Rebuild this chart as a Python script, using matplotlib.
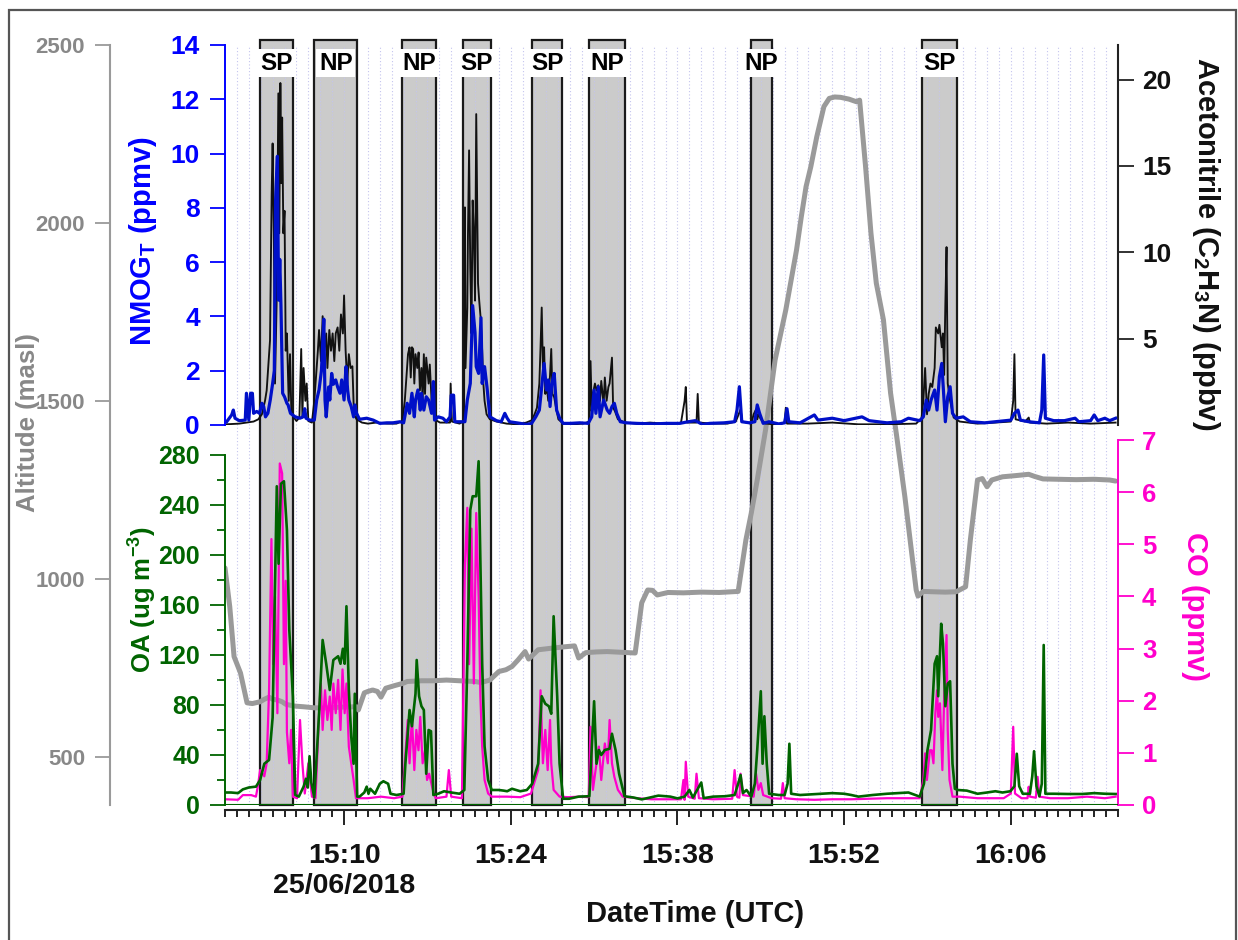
import matplotlib
matplotlib.use("Agg")
import matplotlib.pyplot as plt
from matplotlib.patches import Rectangle
from matplotlib.ticker import FixedLocator, MultipleLocator

plt.rcParams['font.family'] = ['Liberation Sans', 'DejaVu Sans']
plt.rcParams['font.weight'] = 'bold'
plt.rcParams['mathtext.fontset'] = 'custom'
plt.rcParams['mathtext.rm'] = 'Liberation Sans:bold'
plt.rcParams['mathtext.it'] = 'Liberation Sans:bold'
plt.rcParams['mathtext.bf'] = 'Liberation Sans:bold'
plt.rcParams['mathtext.sf'] = 'Liberation Sans:bold'

# ---------------- data (time in minutes after 15:00 UTC, 25/06/2018) ----------------
PLUME_START = [2.95, 7.5, 14.86, 20.0, 25.8, 30.6, 44.15, 58.5]
PLUME_END = [5.7, 11.1, 17.7, 22.3, 28.3, 33.6, 45.9, 61.5]
PLUME_LABEL = ['SP', 'NP', 'NP', 'SP', 'SP', 'NP', 'NP', 'SP']

XTICK_POS = [10, 24, 38, 52, 66]
XTICK_LABELS = ['15:10\n25/06/2018', '15:24', '15:38', '15:52', '16:06']

ALT_PTS = [(0, 1031), (0.4, 922), (0.76, 782), (1.3, 736), (1.85, 652), (2.3, 650), (2.95, 655),
           (3.3, 662), (3.7, 668), (4.0, 662), (4.4, 660), (4.8, 655), (5.1, 648), (5.8, 643),
           (6.6, 641), (7.5, 638), (8.8, 638), (9.8, 640), (11.0, 641), (11.2, 632), (11.7, 680),
           (12.0, 684), (12.4, 688), (12.8, 684), (13.1, 668), (13.5, 693), (14.2, 700), (14.96, 707),
           (15.3, 712), (16.5, 714), (17.5, 714), (18.6, 716), (19.7, 714), (21.0, 712), (21.5, 709),
           (22.25, 716), (23.0, 740), (23.6, 745), (24.1, 754), (24.6, 772), (25.2, 796), (25.5, 775),
           (26.3, 801), (27.3, 805), (28.4, 809), (29.35, 812), (29.7, 778), (30.3, 793), (31.2, 795),
           (32.1, 796), (33.3, 794), (34.45, 792), (35.0, 933), (35.5, 969), (35.9, 968), (36.3, 955),
           (37.2, 962), (38.5, 961), (40.0, 963), (41.5, 962), (43.1, 965), (43.75, 1110), (44.2, 1185),
           (44.7, 1278), (45.4, 1419), (46.2, 1615), (47.1, 1756), (48.0, 1924), (48.4, 2017),
           (48.8, 2102), (49.2, 2158), (49.7, 2242), (50.3, 2327), (50.75, 2350), (51.2, 2354),
           (51.7, 2353), (52.4, 2348), (53.0, 2341), (53.3, 2345), (53.8, 2158), (54.25, 1972),
           (54.7, 1831), (55.3, 1728), (55.9, 1522), (56.4, 1404), (57.1, 1231), (58.05, 969),
           (58.2, 952), (58.65, 965), (59.5, 964), (60.5, 963), (61.4, 964), (62.2, 978), (62.6, 1110),
           (63.2, 1278), (63.6, 1282), (64.0, 1259), (64.4, 1278), (65.3, 1287), (66.3, 1290),
           (67.5, 1294), (68.0, 1288), (68.7, 1281), (70.0, 1280), (71.5, 1279), (73.0, 1280),
           (74.3, 1278), (74.8, 1275)]

OA_PTS = [(0, 10), (0.5, 10), (1.1, 9.5), (1.5, 12.5), (2.0, 14), (2.6, 14.7), (2.95, 20), (3.3, 33),
          (3.7, 36), (4.0, 70), (4.35, 255), (4.5, 193), (4.7, 257), (4.95, 259), (5.2, 220), (5.4, 140),
          (5.7, 87), (5.9, 8), (6.2, 6.7), (6.6, 14.7), (6.8, 21), (6.95, 14), (7.1, 39), (7.25, 18),
          (7.5, 6), (7.9, 73), (8.2, 132), (8.5, 113), (8.8, 92), (9.1, 116), (9.5, 119), (9.7, 113),
          (9.9, 125), (10.05, 113), (10.2, 159), (10.4, 92), (10.6, 55), (10.8, 33), (10.9, 89),
          (11.1, 6.7), (11.3, 6.7), (11.7, 10), (11.9, 14.7), (12.05, 9), (12.2, 13), (12.6, 9),
          (13.0, 17), (13.3, 19), (13.7, 17), (13.9, 9), (14.4, 8), (15.0, 9), (15.15, 33), (15.5, 76),
          (15.7, 63), (16.0, 89), (16.1, 116), (16.3, 87), (16.5, 79), (16.7, 76), (16.9, 25),
          (17.1, 60), (17.3, 59), (17.5, 8), (17.9, 9), (18.4, 11), (19.0, 10), (19.7, 9), (20.1, 12),
          (20.35, 113), (20.6, 236), (20.8, 247), (21.1, 247), (21.3, 275), (21.4, 220), (21.6, 113),
          (21.8, 47), (22.1, 20), (22.4, 12), (23.0, 12), (23.4, 11.5), (23.7, 11), (24.1, 13),
          (24.8, 11), (25.35, 12), (25.8, 17), (26.3, 33), (26.6, 87), (26.9, 81), (27.2, 79),
          (27.4, 73), (27.6, 151), (27.9, 87), (28.1, 33), (28.4, 5), (28.9, 5), (29.7, 6.7),
          (30.6, 7), (31.0, 83), (31.2, 33), (31.4, 44), (31.6, 40), (31.9, 44), (32.3, 45), (32.5, 57),
          (32.8, 44), (33.1, 25), (33.55, 7), (34.3, 6), (35.0, 4.5), (35.7, 6), (36.4, 7.5),
          (37.4, 6.7), (38.0, 5.3), (38.6, 6.7), (39.0, 12), (39.3, 6), (40.0, 18), (40.2, 5.5),
          (41.0, 6.7), (42.0, 7), (42.8, 8), (43.1, 17), (43.3, 24), (43.5, 9.5), (43.8, 12),
          (44.2, 6.7), (44.5, 17), (44.7, 44), (45.0, 91), (45.15, 33), (45.3, 71), (45.5, 33),
          (45.7, 9), (46.5, 8), (47.0, 8), (47.25, 17), (47.4, 49), (47.55, 9), (48.3, 8), (49.2, 8.5),
          (50.1, 9), (51.0, 9.5), (52.0, 9), (52.6, 8), (53.2, 6.7), (54.4, 8), (55.6, 9), (56.5, 9.5),
          (57.4, 10), (58.35, 6.7), (58.7, 17), (59.0, 44), (59.3, 60), (59.6, 113), (59.8, 119),
          (59.9, 87), (60.15, 145), (60.3, 129), (60.5, 79), (60.7, 97), (60.9, 99), (61.1, 33),
          (61.3, 13), (61.55, 12), (62.3, 11.5), (63.2, 9), (64.0, 10), (64.7, 11), (65.3, 10),
          (65.96, 11), (66.3, 15), (66.5, 41), (66.7, 15), (67.0, 9), (67.6, 9), (67.8, 23),
          (67.95, 43), (68.15, 15), (68.4, 7), (68.6, 17), (68.76, 128), (68.9, 9), (69.6, 9),
          (70.8, 8.8), (72.0, 8.8), (73.0, 9.5), (73.9, 9), (74.8, 8.8)]

CO_PTS = [(0, 0.11), (1.1, 0.10), (1.5, 0.19), (2.2, 0.19), (2.6, 0.16), (2.8, 0.42), (2.95, 0.67),
          (3.3, 0.55), (3.5, 0.8), (3.7, 2.2), (3.9, 5.1), (4.05, 2.7), (4.2, 4.0), (4.4, 1.76),
          (4.6, 6.55), (4.8, 6.36), (4.95, 2.7), (5.1, 4.3), (5.2, 1.4), (5.4, 0.8), (5.55, 1.44),
          (5.7, 0.16), (6.05, 0.13), (6.3, 1.63), (6.5, 0.8), (6.7, 0.22), (7.0, 0.8), (7.3, 0.16),
          (7.6, 0.13), (7.9, 1.76), (8.05, 2.33), (8.2, 1.44), (8.4, 2.2), (8.6, 1.63), (8.8, 2.08),
          (8.96, 1.44), (9.1, 2.33), (9.3, 1.76), (9.5, 2.4), (9.7, 1.44), (9.87, 2.6), (10.05, 1.76),
          (10.2, 2.33), (10.4, 1.12), (10.6, 0.8), (10.8, 0.48), (11.0, 0.13), (12.0, 0.13),
          (13.1, 0.16), (14.2, 0.13), (14.9, 0.16), (15.15, 0.99), (15.35, 1.63), (15.5, 0.8),
          (15.7, 1.69), (15.9, 0.67), (16.07, 1.44), (16.25, 1.05), (16.4, 1.69), (16.6, 0.8),
          (16.8, 1.05), (16.97, 0.48), (17.15, 0.6), (17.45, 0.29), (17.7, 0.13), (18.6, 0.16),
          (18.8, 0.67), (19.0, 0.16), (19.9, 0.13), (20.15, 4.6), (20.35, 5.7), (20.5, 2.7),
          (20.7, 5.3), (20.9, 2.33), (21.1, 5.6), (21.3, 4.0), (21.45, 2.08), (21.6, 1.12),
          (21.8, 0.48), (22.1, 0.22), (22.4, 0.16), (23.7, 0.16), (24.8, 0.15), (25.7, 0.22),
          (26.3, 0.67), (26.5, 2.2), (26.7, 0.8), (26.9, 1.44), (27.1, 0.67), (27.3, 1.63), (27.4, 0.8),
          (27.6, 0.29), (28.1, 0.16), (28.8, 0.15), (29.8, 0.16), (30.55, 0.15), (30.7, 1.5),
          (30.9, 0.29), (31.2, 0.8), (31.4, 1.12), (31.6, 0.48), (31.9, 1.18), (32.15, 0.8),
          (32.3, 1.63), (32.5, 0.8), (32.7, 0.54), (33.0, 0.29), (33.4, 0.16), (34.6, 0.13),
          (35.8, 0.11), (37.2, 0.11), (38.3, 0.11), (38.5, 0.48), (38.6, 0.1), (38.7, 0.83),
          (38.9, 0.16), (39.45, 0.12), (39.6, 0.6), (39.8, 0.13), (41.0, 0.11), (42.6, 0.12),
          (42.8, 0.67), (43.0, 0.16), (43.2, 0.14), (43.3, 0.6), (43.5, 0.19), (44.4, 0.16),
          (44.6, 0.6), (44.8, 0.29), (45.0, 0.42), (45.2, 0.19), (45.9, 0.13), (46.7, 0.12),
          (46.85, 0.42), (47.0, 0.13), (48.0, 0.11), (49.5, 0.1), (51.0, 0.11), (52.6, 0.11),
          (54.0, 0.12), (55.6, 0.13), (57.0, 0.13), (58.35, 0.13), (58.65, 0.48), (58.8, 0.99),
          (58.95, 0.48), (59.2, 1.05), (59.35, 1.05), (59.5, 0.8), (59.66, 1.76), (59.8, 2.2),
          (59.9, 1.69), (60.05, 1.95), (60.25, 0.67), (60.4, 2.08), (60.6, 3.26), (60.7, 1.44),
          (60.85, 0.48), (61.1, 0.16), (61.7, 0.16), (63.2, 0.13), (65.4, 0.13), (66.0, 0.22),
          (66.2, 1.5), (66.35, 0.22), (66.9, 0.13), (67.4, 0.13), (67.5, 0.35), (67.6, 0.16),
          (68.1, 0.14), (68.25, 0.54), (68.4, 0.16), (69.3, 0.13), (70.8, 0.13), (72.4, 0.16),
          (73.9, 0.13), (74.8, 0.16)]

NMOG_PTS = [(0.14, 0.12), (0.56, 0.37), (0.7, 0.55), (0.84, 0.25), (1.2, 0.16), (1.7, 0.18), (1.8, 1.17),
            (2.0, 0.18), (2.15, 1.17), (2.3, 1.17), (2.4, 0.43), (2.66, 0.5), (2.9, 0.43), (3.1, 0.8),
            (3.25, 0.68), (3.4, 0.3), (3.6, 0.43), (3.8, 0.92), (4.0, 1.53), (4.14, 2.0), (4.25, 8.3),
            (4.4, 9.9), (4.5, 4.6), (4.6, 6.1), (4.7, 4.4), (4.84, 1.17), (5.0, 1.04), (5.2, 0.8),
            (5.3, 0.74), (5.5, 0.43), (5.9, 0.3), (6.3, 0.25), (6.55, 0.3), (6.7, 0.6), (6.8, 0.25),
            (7.1, 0.18), (7.5, 0.18), (7.7, 0.92), (7.9, 1.3), (8.1, 2.0), (8.3, 3.9), (8.4, 0.92),
            (8.5, 0.3), (8.7, 1.4), (8.8, 0.92), (8.96, 1.9), (9.1, 1.5), (9.3, 1.66), (9.46, 1.4),
            (9.66, 1.17), (9.8, 1.66), (10.0, 0.92), (10.16, 2.15), (10.3, 1.29), (10.4, 0.92),
            (10.6, 0.68), (10.8, 0.3), (10.9, 0.74), (11.05, 0.43), (11.3, 0.21), (11.9, 0.25),
            (12.45, 0.18), (13.0, 0.06), (13.6, 0.08), (14.1, 0.08), (14.7, 0.12), (15.0, 0.08),
            (15.1, 0.3), (15.3, 0.8), (15.5, 0.43), (15.7, 1.17), (15.9, 0.3), (16.0, 0.92), (16.2, 1.29),
            (16.4, 0.55), (16.5, 1.17), (16.7, 0.55), (16.9, 1.04), (17.1, 0.92), (17.35, 0.43),
            (17.5, 1.6), (17.6, 0.18), (17.9, 0.3), (18.3, 0.25), (18.6, 0.12), (18.9, 0.3), (19.0, 1.1),
            (19.2, 1.1), (19.3, 0.12), (19.7, 0.12), (20.15, 0.12), (20.35, 0.92), (20.6, 1.53),
            (20.8, 4.4), (21.0, 3.4), (21.1, 2.15), (21.3, 1.9), (21.5, 3.95), (21.6, 1.53), (21.8, 2.15),
            (22.0, 1.41), (22.25, 0.3), (22.8, 0.16), (23.2, 0.12), (23.5, 0.43), (23.7, 0.25),
            (23.9, 0.12), (24.8, 0.06), (25.3, 0.02), (25.75, 0.06), (26.1, 0.3), (26.4, 0.55),
            (26.6, 1.41), (26.8, 2.27), (27.0, 1.29), (27.15, 1.66), (27.3, 0.68), (27.45, 1.53),
            (27.65, 1.9), (27.85, 0.55), (28.1, 0.25), (28.4, 0.06), (29.0, 0.06), (29.8, 0.08),
            (30.5, 0.06), (30.8, 0.3), (31.0, 1.29), (31.15, 0.43), (31.35, 1.41), (31.5, 0.3),
            (31.8, 0.92), (32.1, 0.55), (32.3, 0.43), (32.5, 0.68), (32.7, 0.8), (32.9, 0.43),
            (33.2, 0.12), (33.7, 0.08), (34.6, 0.06), (36.0, 0.04), (37.1, 0.06), (38.2, 0.06),
            (38.9, 0.12), (39.5, 0.16), (40.1, 0.02), (40.7, 0.06), (41.9, 0.08), (42.8, 0.12),
            (43.0, 0.55), (43.2, 1.41), (43.4, 0.12), (44.05, 0.08), (44.5, 0.12), (44.7, 0.74),
            (44.9, 0.43), (45.2, 0.06), (45.7, 0.12), (46.5, 0.04), (47.0, 0.08), (47.2, 0.6),
            (47.35, 0.12), (48.3, 0.08), (49.5, 0.37), (49.8, 0.18), (51.0, 0.25), (52.0, 0.16),
            (53.5, 0.3), (54.1, 0.16), (55.6, 0.08), (56.8, 0.12), (57.4, 0.25), (58.35, 0.16),
            (58.65, 0.3), (58.9, 0.92), (59.1, 0.55), (59.3, 0.92), (59.6, 1.29), (59.8, 0.55),
            (60.0, 1.78), (60.2, 2.27), (60.35, 1.17), (60.5, 0.12), (60.7, 1.04), (60.9, 1.41),
            (61.1, 0.43), (61.4, 0.25), (62.0, 0.3), (62.6, 0.12), (63.8, 0.08), (64.7, 0.12),
            (66.0, 0.18), (66.3, 0.43), (66.6, 0.55), (66.8, 0.18), (67.5, 0.12), (68.4, 0.08),
            (68.6, 0.55), (68.76, 2.58), (68.9, 0.25), (69.6, 0.16), (70.5, 0.16), (71.4, 0.25),
            (71.7, 0.12), (72.7, 0.16), (73.0, 0.37), (73.3, 0.16), (73.9, 0.25), (74.3, 0.16),
            (74.8, 0.25)]

ACN_PTS = [(0.1, 0.04), (1.2, 0.08), (2.4, 0.2), (2.8, 0.33), (3.1, 0.62), (3.36, 1.4), (3.5, 2.0),
           (3.64, 3.5), (3.78, 4.9), (3.92, 13.4), (4.0, 16.3), (4.1, 11.1), (4.2, 2.4), (4.34, 7.2),
           (4.48, 19.2), (4.56, 11.1), (4.65, 19.8), (4.73, 14.0), (4.8, 17.8), (4.9, 11.1), (5.0, 12.4),
           (5.1, 4.3), (5.2, 5.3), (5.35, 1.4), (5.46, 4.1), (5.57, 0.8), (5.7, 0.52), (6.0, 0.23),
           (6.25, 0.43), (6.4, 4.4), (6.5, 0.43), (6.6, 3.3), (6.75, 1.4), (6.86, 2.4), (7.0, 0.23),
           (7.3, 0.14), (7.5, 1.4), (7.64, 2.75), (7.8, 4.3), (7.9, 5.5), (8.06, 3.7), (8.2, 6.3),
           (8.34, 4.3), (8.5, 5.3), (8.6, 3.3), (8.76, 5.5), (8.9, 4.3), (9.04, 5.3), (9.18, 3.7),
           (9.3, 5.3), (9.46, 5.65), (9.6, 4.3), (9.74, 6.4), (9.9, 5.3), (10.0, 7.5), (10.13, 4.3),
           (10.27, 2.4), (10.4, 4.1), (10.55, 3.3), (10.7, 3.4), (10.83, 0.62), (11.05, 0.33),
           (11.5, 0.14), (12.0, 0.08), (12.7, 0.14), (13.6, 0.08), (14.4, 0.08), (14.9, 0.23),
           (15.1, 1.4), (15.25, 2.9), (15.37, 4.1), (15.5, 4.5), (15.6, 2.75), (15.7, 4.5), (15.8, 4.4),
           (15.9, 2.4), (16.0, 4.1), (16.15, 3.3), (16.26, 4.2), (16.37, 2.0), (16.5, 3.3), (16.6, 1.4),
           (16.7, 4.1), (16.8, 1.8), (16.9, 3.9), (17.1, 2.4), (17.2, 3.5), (17.35, 1.4), (17.5, 0.8),
           (17.6, 0.33), (18.05, 0.14), (18.9, 0.14), (18.95, 2.4), (19.06, 0.2), (19.7, 0.08),
           (20.07, 0.23), (20.15, 12.6), (20.2, 3.3), (20.35, 6.8), (20.4, 10.7), (20.5, 15.9),
           (20.6, 9.1), (20.7, 5.3), (20.8, 13.0), (20.9, 11.1), (21.0, 7.2), (21.1, 18.0),
           (21.25, 8.2), (21.35, 7.2), (21.47, 6.2), (21.6, 4.3), (21.7, 2.4), (21.8, 1.4),
           (21.97, 0.62), (22.25, 0.33), (22.8, 0.2), (23.65, 0.08), (24.5, 0.04), (25.3, 0.14),
           (25.75, 0.27), (26.0, 0.62), (26.2, 1.0), (26.4, 2.4), (26.5, 4.5), (26.6, 6.8), (26.7, 3.3),
           (26.8, 4.5), (26.9, 1.8), (27.0, 2.4), (27.15, 1.4), (27.3, 2.9), (27.4, 4.4), (27.5, 1.8),
           (27.65, 1.6), (27.8, 1.0), (28.0, 0.33), (28.4, 0.08), (29.25, 0.04), (30.1, 0.08),
           (30.6, 0.2), (30.7, 3.7), (30.8, 0.8), (30.9, 1.8), (31.07, 2.4), (31.2, 2.0), (31.35, 2.3),
           (31.5, 1.4), (31.6, 2.55), (31.8, 1.2), (31.9, 2.75), (32.05, 1.4), (32.2, 2.2), (32.3, 2.4),
           (32.5, 3.9), (32.6, 1.0), (32.75, 0.8), (33.0, 0.33), (33.6, 0.14), (34.6, 0.08),
           (35.7, 0.14), (36.8, 0.08), (37.4, 0.04), (38.3, 0.14), (38.6, 1.4), (38.7, 2.2),
           (38.8, 0.14), (39.6, 0.14), (39.7, 1.8), (39.8, 0.14), (41.0, 0.08), (42.2, 0.08),
           (42.9, 0.2), (43.3, 0.9), (43.45, 0.2), (44.2, 0.08), (44.4, 0.62), (44.6, 0.9), (44.7, 0.33),
           (44.8, 0.62), (45.0, 0.33), (45.4, 0.08), (46.5, 0.02), (47.0, 0.14), (47.1, 1.0),
           (47.2, 0.08), (48.9, 0.08), (51.0, 0.14), (53.2, 0.04), (55.6, 0.04), (58.05, 0.08),
           (58.5, 0.4), (58.65, 1.4), (58.8, 3.3), (58.96, 0.62), (59.1, 1.8), (59.25, 2.4), (59.4, 2.2),
           (59.6, 3.3), (59.7, 5.65), (59.9, 5.3), (60.0, 5.8), (60.2, 4.5), (60.3, 5.3), (60.4, 2.9),
           (60.5, 7.0), (60.6, 10.3), (60.7, 2.4), (60.9, 1.4), (61.2, 0.43), (61.7, 0.2), (63.2, 0.08),
           (64.7, 0.14), (66.0, 0.2), (66.2, 1.4), (66.3, 4.1), (66.4, 0.33), (67.2, 0.2), (67.5, 0.43),
           (67.6, 0.14), (69.0, 0.08), (70.8, 0.14), (72.7, 0.08), (74.8, 0.14)]

# ---------------- styling ----------------
W, H = 1238, 940
X0, X1 = 225, 1118          # plot left/right in pixels
XMIN, XMAX = 0, 75
C_BLUE_TXT = '#0000FF'
C_BLUE = '#0010C8'
C_BLACK = '#111111'
C_GREEN = '#006400'
C_MAG = '#FF00CC'
C_ALT = '#9a9a9a'
C_ALT_TXT = '#888888'
PT = 0.72  # points per pixel at dpi 100


def rect(top_px, bottom_px):
    return [X0 / W, 1 - bottom_px / H, (X1 - X0) / W, (bottom_px - top_px) / H]


def split(pts):
    return [p[0] for p in pts], [p[1] for p in pts]


fig = plt.figure(figsize=(W / 100, H / 100), dpi=100)
fig.patch.set_facecolor('white')

# frame
fig.add_artist(Rectangle((9 / W, -0.02), (1236 - 9) / W, 1 - 10 / H + 0.02,
                         transform=fig.transFigure, fill=False, ec='#555555', lw=1.6))

# background axes: plume boxes and vertical dotted grid
bg = fig.add_axes(rect(40, 805))
bg.set_zorder(0)
bg.set_xlim(XMIN, XMAX)
bg.set_ylim(0, 1)
bg.axis('off')
for s, e in zip(PLUME_START, PLUME_END):
    bg.add_patch(Rectangle((s, 0), e - s, 1, fc='#cbcbcb', ec='none', zorder=1))
grid_top = (805 - 45) / (805 - 40)
for m in range(1, 75):
    bg.axvline(m, ymin=0, ymax=grid_top, color='#c4c4ee', ls=(0, (1, 2)), lw=0.8, zorder=2)
for s, e in zip(PLUME_START, PLUME_END):
    bg.add_patch(Rectangle((s, 0), e - s, 1, fill=False, ec='#1a1a1a', lw=1.6, zorder=3,
                           clip_on=False))

# altitude axes (spans both panels)
alt = fig.add_axes(rect(45, 805))
alt.set_zorder(1)
alt.patch.set_visible(False)
alt.set_xlim(XMIN, XMAX)
alt.set_ylim(365, 2500)
at, av = split(ALT_PTS)
alt.plot(at, av, color=C_ALT, lw=3.6, solid_joinstyle='round', solid_capstyle='round')
for sp in ['top', 'right', 'bottom']:
    alt.spines[sp].set_visible(False)
alt.spines['left'].set_position(('outward', 115 * PT))
alt.spines['left'].set_color(C_ALT)
alt.spines['left'].set_linewidth(1.5)
alt.set_yticks([500, 1000, 1500, 2000, 2500])
alt.tick_params(axis='y', direction='out', length=15 * PT, width=1.3, color=C_ALT,
                labelcolor=C_ALT_TXT, labelsize=16, pad=10 * PT)
alt.tick_params(axis='x', bottom=False, labelbottom=False)
fig.text(28 / W, 1 - 423 / H, 'Altitude (masl)', rotation=90, color=C_ALT_TXT,
         fontsize=18.5, fontweight='bold', ha='center', va='center')

# top panel: NMOG (left) and acetonitrile (right)
top = fig.add_axes(rect(45, 425))
top.set_zorder(4)
top.patch.set_visible(False)
top.set_xlim(XMIN, XMAX)
top.set_ylim(0, 14)
nt, nv = split(NMOG_PTS)
top.plot(nt, nv, color=C_BLUE, lw=2.3)
for sp in ['top', 'right', 'bottom']:
    top.spines[sp].set_visible(False)
top.spines['left'].set_color(C_BLUE_TXT)
top.spines['left'].set_linewidth(1.4)
top.set_yticks(range(0, 15, 2))
top.tick_params(axis='y', direction='out', length=15 * PT, width=1.3, color=C_BLUE_TXT,
                labelcolor=C_BLUE_TXT, labelsize=19, pad=10 * PT)
top.tick_params(axis='x', bottom=False, labelbottom=False)
fig.text(143 / W, 1 - 241 / H, r'NMOG$_\mathrm{T}$ (ppmv)', rotation=90, color=C_BLUE_TXT,
         fontsize=21, fontweight='bold', ha='center', va='center')

acn = fig.add_axes(rect(45, 425))
acn.set_zorder(3)
acn.patch.set_visible(False)
acn.set_xlim(XMIN, XMAX)
acn.set_ylim(0, 22)
ct, cv = split(ACN_PTS)
acn.plot(ct, cv, color=C_BLACK, lw=1.35)
for sp in ['top', 'left', 'bottom']:
    acn.spines[sp].set_visible(False)
acn.spines['right'].set_color('#222222')
acn.spines['right'].set_linewidth(1.5)
acn.yaxis.tick_right()
acn.set_yticks([5, 10, 15, 20])
acn.tick_params(axis='y', direction='out', length=16 * PT, width=1.3, color='#222222',
                labelcolor='#111111', labelsize=19, pad=8 * PT)
acn.tick_params(axis='x', bottom=False, labelbottom=False)
fig.text(1206 / W, 1 - 244 / H, r'Acetonitrile (C$_2$H$_3$N) (ppbv)', rotation=270, color='#111111',
         fontsize=21, fontweight='bold', ha='center', va='center')

# bottom panel: OA (left) and CO (right)
bot = fig.add_axes(rect(440, 805))
bot.set_zorder(4)
bot.patch.set_visible(False)
bot.set_xlim(XMIN, XMAX)
bot.set_ylim(0, 280 * 365 / 350)
ot, ov = split(OA_PTS)
bot.axhline(0, color=C_GREEN, lw=1.5, zorder=1)
bot.plot(ot, ov, color=C_GREEN, lw=1.9, zorder=3)
for sp in ['top', 'right']:
    bot.spines[sp].set_visible(False)
bot.spines['left'].set_color(C_GREEN)
bot.spines['left'].set_linewidth(1.4)
bot.spines['left'].set_bounds(0, 280)
bot.yaxis.set_major_locator(FixedLocator(list(range(0, 281, 40))))
bot.yaxis.set_minor_locator(FixedLocator(list(range(20, 281, 40))))
bot.tick_params(axis='y', which='major', direction='out', length=15 * PT, width=1.3, color=C_GREEN,
                labelcolor=C_GREEN, labelsize=18, pad=10 * PT)
bot.tick_params(axis='y', which='minor', direction='out', length=8 * PT, width=1.3, color=C_GREEN)
bot.spines['bottom'].set_position(('outward', 5 * PT))
bot.spines['bottom'].set_color('#222222')
bot.spines['bottom'].set_linewidth(1.5)
bot.xaxis.set_major_locator(FixedLocator(XTICK_POS))
bot.set_xticklabels(XTICK_LABELS)
bot.xaxis.set_minor_locator(MultipleLocator(1))
bot.tick_params(axis='x', which='major', direction='out', length=15 * PT, width=1.4, color='#222222',
                labelsize=20.5, pad=18 * PT, labelcolor='#111111')
bot.tick_params(axis='x', which='minor', direction='out', length=7 * PT, width=1.4, color='#222222')
fig.text(143 / W, 1 - 600 / H, r'OA (ug m$^{-3}$)', rotation=90, color=C_GREEN,
         fontsize=18.5, fontweight='bold', ha='center', va='center')
fig.text(695 / W, 1 - 914 / H, 'DateTime (UTC)', color='#111111', fontsize=21,
         fontweight='bold', ha='center', va='center')

co = fig.add_axes(rect(440, 805))
co.set_zorder(3)
co.patch.set_visible(False)
co.set_xlim(XMIN, XMAX)
co.set_ylim(0, 7)
kt, kv = split(CO_PTS)
co.plot(kt, kv, color=C_MAG, lw=1.6)
for sp in ['top', 'left', 'bottom']:
    co.spines[sp].set_visible(False)
co.spines['right'].set_color(C_MAG)
co.spines['right'].set_linewidth(1.4)
co.yaxis.tick_right()
co.set_yticks(range(0, 8))
co.tick_params(axis='y', direction='out', length=16 * PT, width=1.3, color=C_MAG,
               labelcolor=C_MAG, labelsize=18.5, pad=8 * PT)
co.tick_params(axis='x', bottom=False, labelbottom=False)
fig.text(1195 / W, 1 - 606 / H, 'CO (ppmv)', rotation=270, color=C_MAG,
         fontsize=21, fontweight='bold', ha='center', va='center')

# plume labels
label_y = (425 - 63) / (425 - 45)
for s, e, lab in zip(PLUME_START, PLUME_END, PLUME_LABEL):
    top.text((s + e) / 2, label_y, lab, transform=top.get_xaxis_transform(), ha='center', va='center',
             fontsize=17.5, fontweight='bold', color='black', zorder=20, clip_on=False,
             bbox=dict(boxstyle='square,pad=0.12', fc='white', ec='none'))

fig.savefig('out.png', dpi=100, facecolor='white')
